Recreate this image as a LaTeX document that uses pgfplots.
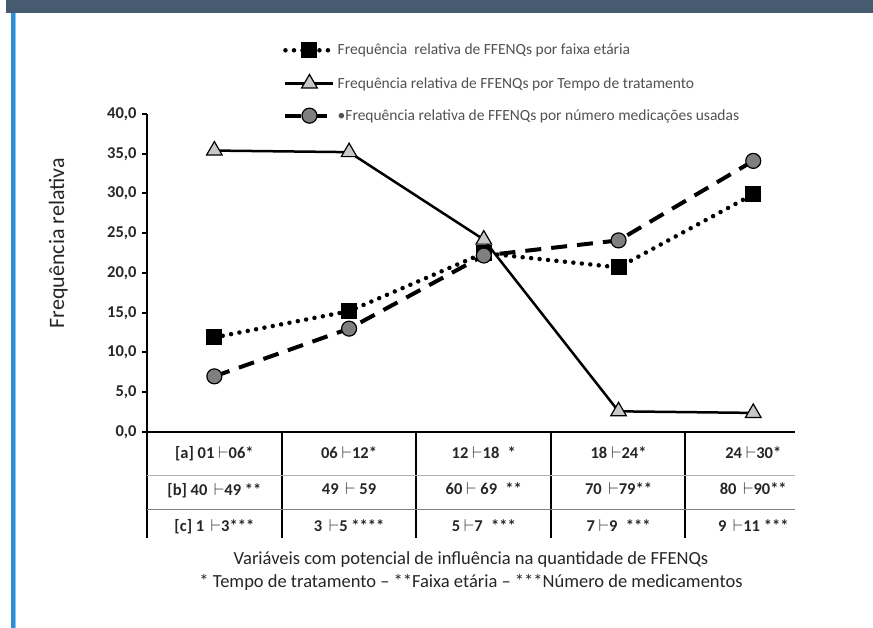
\documentclass[border=0pt]{standalone}
\usepackage{pgfplots}
\pgfplotsset{compat=1.18}
\usepackage{fontspec}
\setmainfont{Carlito}
\definecolor{hdr}{HTML}{465A70}
\definecolor{side}{HTML}{2E8FD6}
\definecolor{sidelt}{HTML}{8CC6EC}
\definecolor{tri}{HTML}{C8C8C8}
\definecolor{circ}{HTML}{7F7F7F}
\definecolor{txt}{HTML}{262626}

\begin{document}
\begin{tikzpicture}[x=1bp,y=1bp]
% page frame of the screenshot
\fill[white] (0,0) rectangle (873,628);
\fill[hdr] (6,615) rectangle (873,628);
\fill[side] (11,0) rectangle (14.5,615);
\fill[sidelt] (14.5,0) rectangle (15.5,615);

\begin{axis}[
  at={(147bp,196bp)}, anchor=south west,
  scale only axis, width=648bp, height=318bp,
  xmin=-0.5, xmax=4.31, ymin=0, ymax=40,
  axis x line*=bottom, axis y line*=left,
  axis line style={-, line width=2.2bp, black},
  clip=false,
  ytick={0,5,...,40},
  tick align=outside,
  major tick length=5bp,
  tick style={line width=2bp, black},
  /pgf/number format/fixed,
  /pgf/number format/fixed zerofill,
  /pgf/number format/precision=1,
  /pgf/number format/use comma,
  /pgf/number format/assume math mode=true,
  yticklabel style={font=\fontsize{16.5bp}{16bp}\selectfont\bfseries, text=txt, xshift=-2bp},
  xtick={0,...,4},
  xticklabels={
    {[a] 01 $\vdash$06*\\{[b]} 40 \,$\vdash$49 **\\{[c]} 1 \,$\vdash$3***},
    {06 $\vdash$12*\\49 \,$\vdash$ 59\\3 \,$\vdash$5 ****},
    {12 $\vdash$18 \;*\\60 $\vdash$ 69 \;**\\5 $\vdash$7 \;***},
    {18 $\vdash$24*\\70 \,$\vdash$79**\\7 $\vdash$9 \;***},
    {24 $\vdash$30*\\80 \,$\vdash$90**\\9 \,$\vdash$11 ***}},
  xticklabel style={align=center, font=\fontsize{16.5bp}{36.5bp}\selectfont\bfseries, text=txt, anchor=north, yshift=-6bp},
  major x tick style={draw=none},
  ylabel={Frequência relativa},
  ylabel style={at={(axis description cs:-0.137,0.594)}, anchor=center, font=\fontsize{22bp}{24bp}\selectfont, text=txt},
  xlabel={Variáveis com potencial de influência na quantidade de FFENQs\\* Tempo de tratamento -- **Faixa etária -- ***Número de medicamentos},
  xlabel style={at={(axis description cs:0.5,-0.4387)}, anchor=center, align=center, font=\fontsize{18.5bp}{23bp}\selectfont, text=txt},
  legend image code/.code={\draw[mark repeat=2, mark phase=2, #1] plot coordinates {(0bp,0bp)(24bp,0bp)(48bp,0bp)};},
  legend style={at={(axis description cs:0.2099,1.0975)}, anchor=west, draw=none, fill=none,
    font=\fontsize{15.5bp}{17bp}\selectfont, text=txt!80, row sep=16bp, inner sep=0pt,
    cells={anchor=west}},
]
\addplot[black, line width=4.5bp, dash pattern=on 0bp off 8.5bp, line cap=round,
  mark=square*, mark size=7.5bp, mark options={solid, fill=black, line width=1bp}]
  coordinates {(0,11.9) (1,15.2) (2,22.5) (3,20.7) (4,29.9)};
\addlegendentry{Frequência \ relativa de FFENQs por faixa etária}
\addplot[black, line width=2.5bp,
  mark=triangle*, mark size=9bp, mark options={solid, fill=tri, line width=1.2bp}]
  coordinates {(0,35.4) (1,35.2) (2,24.2) (3,2.6) (4,2.4)};
\addlegendentry{Frequência relativa de FFENQs por Tempo de tratamento}
\addplot[black, line width=4bp, dash pattern=on 16bp off 10bp,
  mark=*, mark size=7.5bp, mark options={solid, fill=circ, line width=1.2bp}]
  coordinates {(0,7.0) (1,13.0) (2,22.2) (3,24.1) (4,34.1)};
\addlegendentry{\textbullet Frequência relativa de FFENQs por número medicações usadas}
\end{axis}

% table below the x axis
\draw[line width=2.2bp] (147,196) -- (147,90);
\foreach \xx in {282,416,551,685} \draw[line width=2bp] (\xx,196) -- (\xx,90);
\draw[line width=1bp, black!30] (147,152) -- (795,152);
\draw[line width=1bp, black!50] (147,118) -- (795,118);
\end{tikzpicture}
\end{document}
